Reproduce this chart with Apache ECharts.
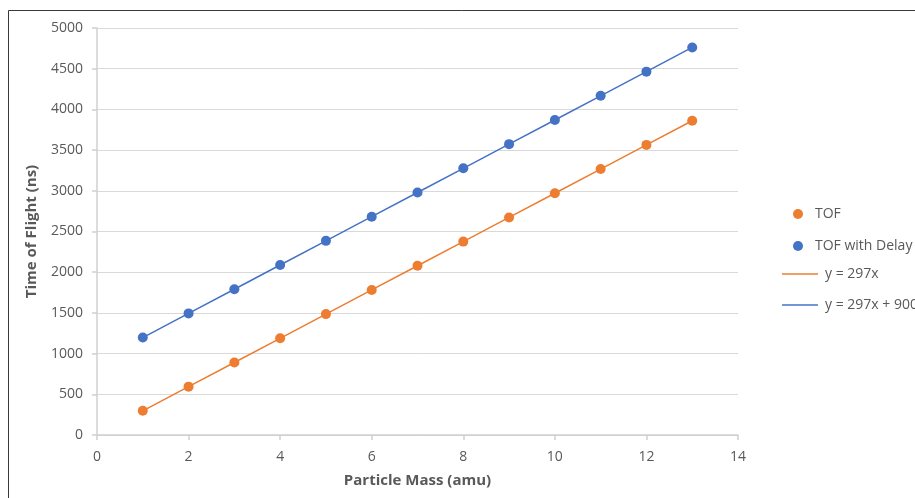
<!DOCTYPE html>
<html>
<head>
<meta charset="utf-8">
<script src="https://cdn.jsdelivr.net/npm/echarts@6/dist/echarts.min.js"></script>
<style>
  html, body { margin: 0; padding: 0; background: #fff; }
  #chart { width: 915px; height: 498px; }
</style>
</head>
<body>
<div id="chart"></div>
<script>
// Particle mass (amu)
const mass = [1, 2, 3, 4, 5, 6, 7, 8, 9, 10, 11, 12, 13];
// Time of flight (ns)
const tof = [297, 594, 891, 1188, 1485, 1782, 2079, 2376, 2673, 2970, 3267, 3564, 3861];
// Time of flight with delay (ns)
const tofDelay = [1197, 1494, 1791, 2088, 2385, 2682, 2979, 3276, 3573, 3870, 4167, 4464, 4761];

const seriesNames = ['TOF', 'TOF with Delay', 'y = 297x', 'y = 297x + 900'];
const ORANGE = '#ED7D31';
const BLUE = '#4472C4';
const TEXT = '#595959';
const FONT = '"Open Sans", "Liberation Sans", sans-serif';

const pairs = (ys) => mass.map((x, i) => [x, ys[i]]);

const chart = echarts.init(document.getElementById('chart'), null, { renderer: 'canvas' });

chart.setOption({
  animation: false,
  backgroundColor: '#fff',
  textStyle: { fontFamily: FONT },
  graphic: [{
    type: 'polyline',
    silent: true,
    shape: { points: [[8.5, 498], [8.5, 10.5], [915, 10.5]] },
    style: { stroke: '#3a3a3a', lineWidth: 1, fill: null }
  }],
  grid: { left: 97, right: 177, top: 28, bottom: 63 },
  legend: [
    {
      // marker entries
      orient: 'vertical',
      left: 788,
      top: 202,
      itemWidth: 10,
      itemHeight: 10,
      itemGap: 18,
      textStyle: { color: TEXT, fontSize: 14, fontFamily: FONT, padding: [0, 0, 0, 7] },
      data: [
        { name: seriesNames[0], icon: 'circle' },
        { name: seriesNames[1], icon: 'circle' }
      ]
    },
    {
      // trendline entries
      orient: 'vertical',
      left: 777,
      top: 262,
      itemWidth: 36,
      itemHeight: 10,
      itemGap: 17,
      textStyle: { color: TEXT, fontSize: 14, fontFamily: FONT, padding: [0, 0, 0, 2] },
      data: [
        { name: seriesNames[2], icon: 'path://M0,0H36V1.5H0Z' },
        { name: seriesNames[3], icon: 'path://M0,0H36V1.5H0Z' }
      ]
    }
  ],
  xAxis: {
    type: 'value',
    min: 0, max: 14, interval: 2,
    name: 'Particle Mass (amu)',
    nameLocation: 'middle',
    nameGap: 38,
    nameTextStyle: { color: TEXT, fontSize: 15, fontWeight: 'bold', fontFamily: FONT },
    axisLine: { show: true, onZero: false, lineStyle: { color: '#d0d0d0', width: 1.5 } },
    axisTick: { show: true, length: 5, lineStyle: { color: '#d0d0d0', width: 1.5 } },
    axisLabel: { color: TEXT, fontSize: 14, margin: 15, fontFamily: FONT },
    splitLine: { show: false }
  },
  yAxis: {
    type: 'value',
    min: 0, max: 5000, interval: 500,
    name: 'Time of Flight (ns)',
    nameLocation: 'middle',
    nameGap: 58,
    nameTextStyle: { color: TEXT, fontSize: 15, fontWeight: 'bold', fontFamily: FONT },
    axisLine: { show: true, lineStyle: { color: '#d0d0d0', width: 1.5 } },
    axisTick: { show: true, length: 5, lineStyle: { color: '#d0d0d0', width: 1.5 } },
    axisLabel: { color: TEXT, fontSize: 14, margin: 14, fontFamily: FONT, formatter: (v) => String(v) },
    splitLine: { show: true, lineStyle: { color: '#d9d9d9', width: 1 } }
  },
  series: [
    {
      name: seriesNames[2], type: 'line', data: pairs(tof),
      showSymbol: false, symbol: 'none',
      lineStyle: { color: ORANGE, width: 1.5 }, itemStyle: { color: ORANGE }, z: 2
    },
    {
      name: seriesNames[3], type: 'line', data: pairs(tofDelay),
      showSymbol: false, symbol: 'none',
      lineStyle: { color: BLUE, width: 1.5 }, itemStyle: { color: BLUE }, z: 2
    },
    {
      name: seriesNames[0], type: 'scatter', data: pairs(tof),
      symbol: 'circle', symbolSize: 10,
      itemStyle: { color: ORANGE, opacity: 1 }, z: 3
    },
    {
      name: seriesNames[1], type: 'scatter', data: pairs(tofDelay),
      symbol: 'circle', symbolSize: 10,
      itemStyle: { color: BLUE, opacity: 1 }, z: 3
    }
  ]
});
</script>
</body>
</html>
